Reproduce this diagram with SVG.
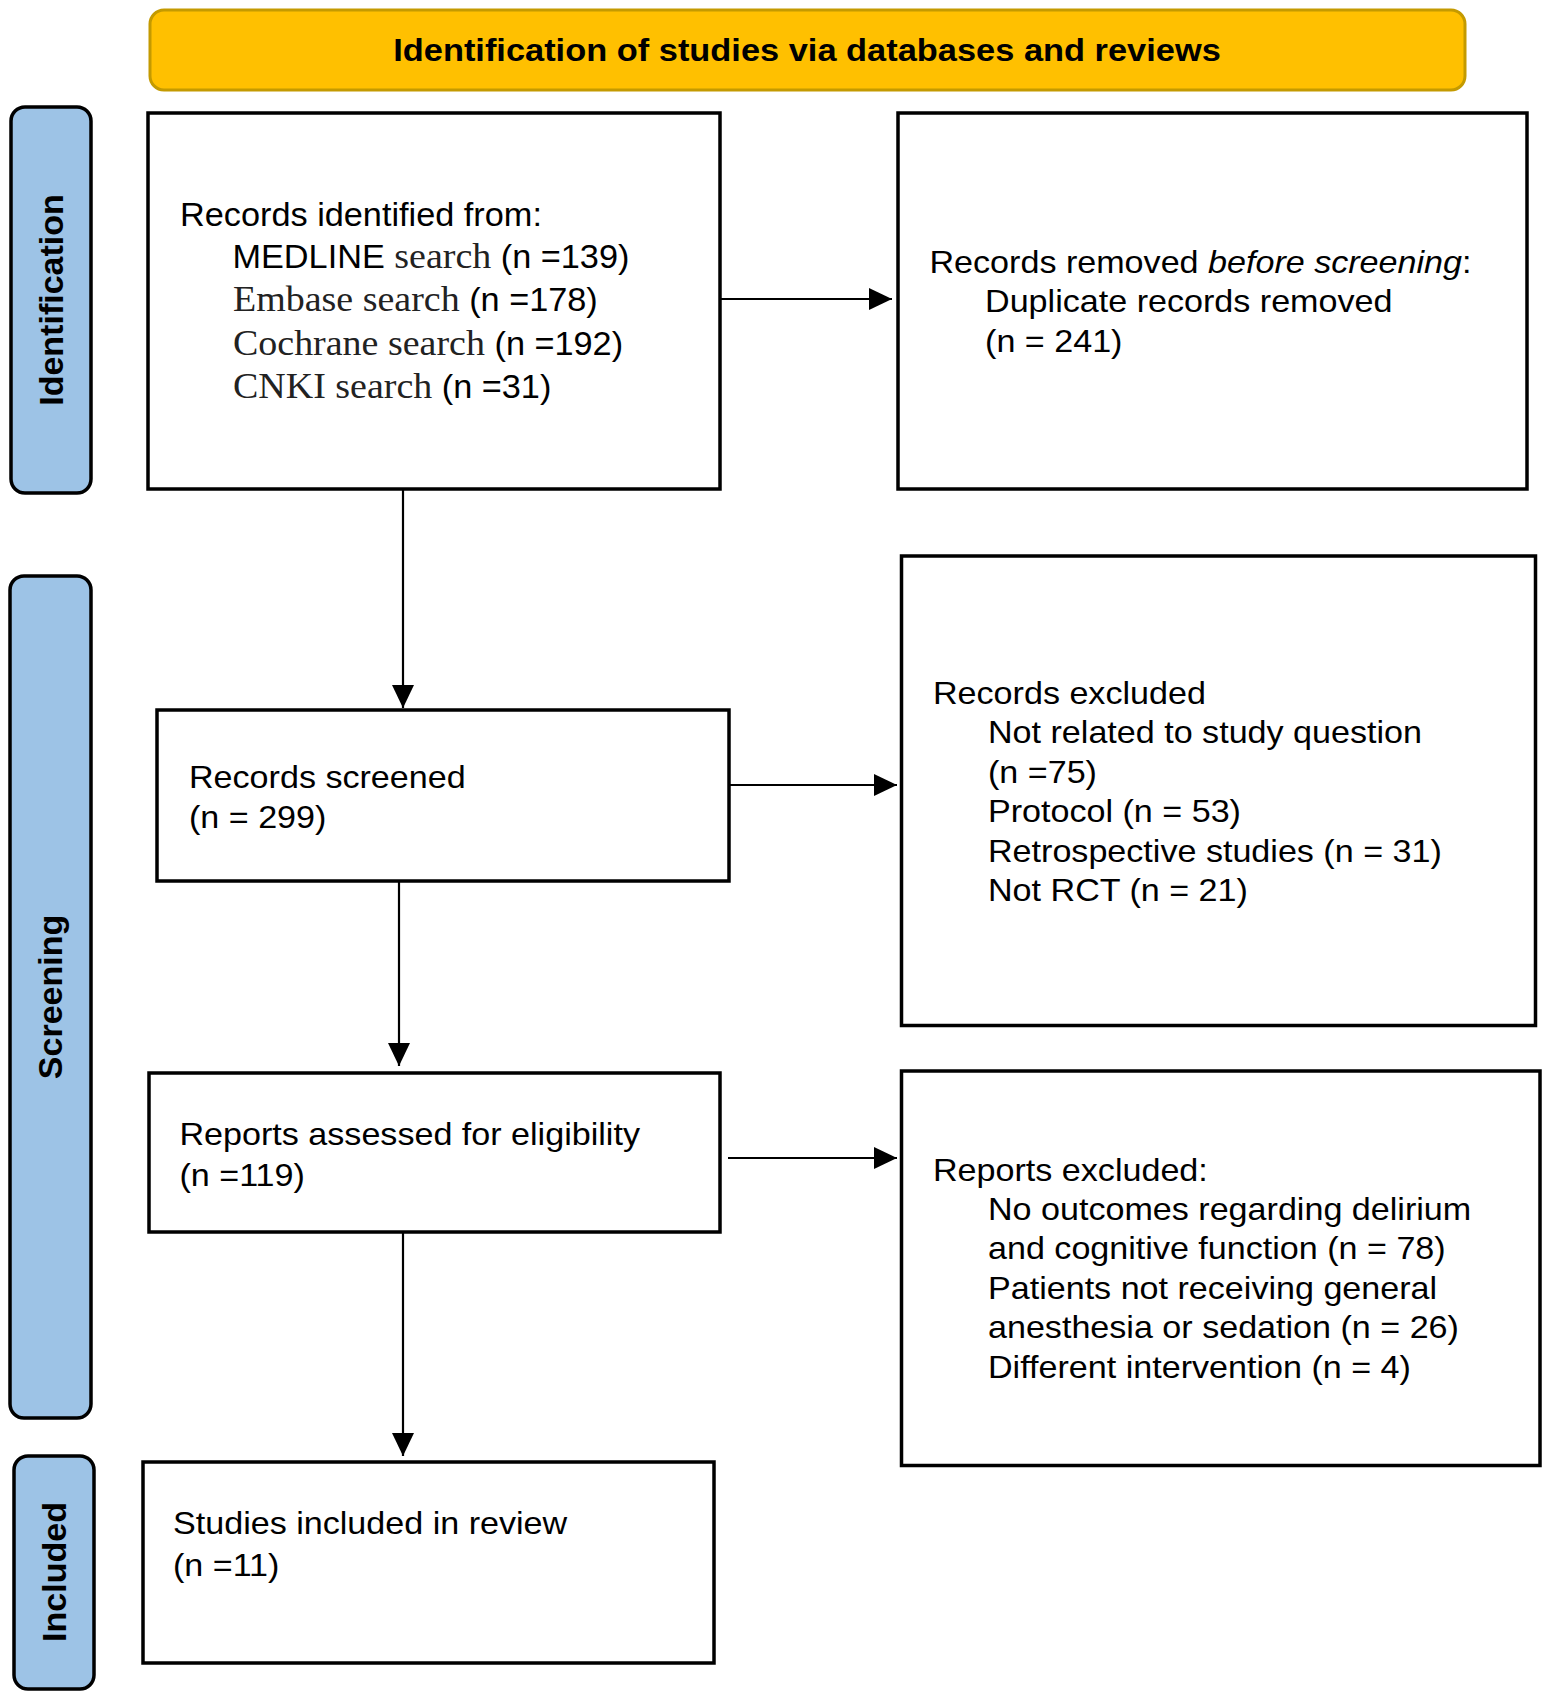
<svg xmlns="http://www.w3.org/2000/svg" width="1548" height="1697" viewBox="0 0 1548 1697">
<style>
.box{fill:#fff;stroke:#000;stroke-width:3.5}
.lab{fill:#9DC3E6;stroke:#000;stroke-width:3.5}
.ban{fill:#FFC000;stroke:#C49A00;stroke-width:3}
.t{font-family:"Liberation Sans",Arial,sans-serif;font-size:31px;fill:#000}
.t1{font-family:"Liberation Sans",Arial,sans-serif;font-size:32.5px;fill:#000}
.s{font-family:"Liberation Serif","Times New Roman",serif;font-size:36px;fill:#222}
.b{font-family:"Liberation Sans",Arial,sans-serif;font-weight:bold;font-size:31px;fill:#000}
.rl{font-family:"Liberation Sans",Arial,sans-serif;font-weight:bold;font-size:34px;fill:#000;text-anchor:middle}
.c{stroke:#000;stroke-width:2.2;fill:none}
</style>
<defs>
<marker id="ah" markerUnits="userSpaceOnUse" markerWidth="24" markerHeight="22" refX="23" refY="11" orient="auto">
<path d="M0,0 L23,11 L0,22 z" fill="#000"/>
</marker>
</defs>

<g id="banner">
<rect class="ban" x="150" y="10" width="1315" height="80" rx="14"/>
<text class="b" text-anchor="middle" transform="translate(807,61) scale(1.11,1)">Identification of studies via databases and reviews</text>
</g>

<g id="label-identification">
<rect class="lab" x="11" y="107" width="80" height="386" rx="14"/>
<text class="rl" transform="translate(63,300) rotate(-90)">Identification</text>
</g>
<g id="label-screening">
<rect class="lab" x="10" y="576" width="81" height="842" rx="14"/>
<text class="rl" transform="translate(62,997) rotate(-90)">Screening</text>
</g>
<g id="label-included">
<rect class="lab" x="14" y="1456" width="80" height="233" rx="14"/>
<text class="rl" transform="translate(66,1572) rotate(-90)">Included</text>
</g>

<g id="connectors">
<line class="c" x1="720" y1="299" x2="892" y2="299" marker-end="url(#ah)"/>
<line class="c" x1="403" y1="489" x2="403" y2="708" marker-end="url(#ah)"/>
<line class="c" x1="729" y1="785" x2="897" y2="785" marker-end="url(#ah)"/>
<line class="c" x1="399" y1="881" x2="399" y2="1066" marker-end="url(#ah)"/>
<line class="c" x1="728" y1="1158" x2="897" y2="1158" marker-end="url(#ah)"/>
<line class="c" x1="403" y1="1232" x2="403" y2="1456" marker-end="url(#ah)"/>
</g>

<g id="records-identified">
<rect class="box" x="148" y="113" width="572" height="376"/>
<text class="t1" transform="translate(180,226) scale(1.055,1)">
<tspan x="0" y="0">Records identified from:</tspan>
<tspan x="49.7" y="42">MEDLINE<tspan class="s"> search</tspan> (n =139)</tspan>
<tspan x="50.2" y="85"><tspan class="s">Embase search</tspan> (n =178)</tspan>
<tspan x="50.2" y="129"><tspan class="s">Cochrane search</tspan> (n =192)</tspan>
<tspan x="50.2" y="172"><tspan class="s">CNKI search</tspan> (n =31)</tspan>
</text>
</g>

<g id="records-removed">
<rect class="box" x="898" y="113" width="629" height="376"/>
<text class="t" transform="translate(929.5,273) scale(1.1,1)">
<tspan x="0" y="0">Records removed <tspan font-style="italic">before screening</tspan>:</tspan>
<tspan x="50.5" y="39">Duplicate records removed</tspan>
<tspan x="50.5" y="79">(n = 241)</tspan>
</text>
</g>

<g id="records-screened">
<rect class="box" x="157" y="710" width="572" height="171"/>
<text class="t" transform="translate(189,787.5) scale(1.1,1)">
<tspan x="0" y="0">Records screened</tspan>
<tspan x="0" y="41">(n = 299)</tspan>
</text>
</g>

<g id="records-excluded">
<rect class="box" x="901.5" y="556" width="634" height="469.5"/>
<text class="t" transform="translate(933,704) scale(1.1,1)">
<tspan x="0" y="0">Records excluded</tspan>
<tspan x="50" y="39.4">Not related to study question</tspan>
<tspan x="50" y="78.8">(n =75)</tspan>
<tspan x="50" y="118.2">Protocol (n = 53)</tspan>
<tspan x="50" y="157.6">Retrospective studies (n = 31)</tspan>
<tspan x="50" y="197">Not RCT (n = 21)</tspan>
</text>
</g>

<g id="reports-assessed">
<rect class="box" x="149" y="1073" width="571" height="159"/>
<text class="t" transform="translate(179.5,1145) scale(1.1,1)">
<tspan x="0" y="0">Reports assessed for eligibility</tspan>
<tspan x="0" y="41">(n =119)</tspan>
</text>
</g>

<g id="reports-excluded">
<rect class="box" x="901.5" y="1071" width="638.5" height="394.5"/>
<text class="t" transform="translate(933,1180.5) scale(1.1,1)">
<tspan x="0" y="0">Reports excluded:</tspan>
<tspan x="50" y="40">No outcomes regarding delirium</tspan>
<tspan x="50" y="79">and cognitive function (n = 78)</tspan>
<tspan x="50" y="119">Patients not receiving general</tspan>
<tspan x="50" y="158">anesthesia or sedation (n = 26)</tspan>
<tspan x="50" y="198">Different intervention (n = 4)</tspan>
</text>
</g>

<g id="studies-included">
<rect class="box" x="143" y="1462" width="571" height="201"/>
<text class="t" transform="translate(173,1534) scale(1.1,1)">
<tspan x="0" y="0">Studies included in review</tspan>
<tspan x="0" y="42">(n =11)</tspan>
</text>
</g>
</svg>
